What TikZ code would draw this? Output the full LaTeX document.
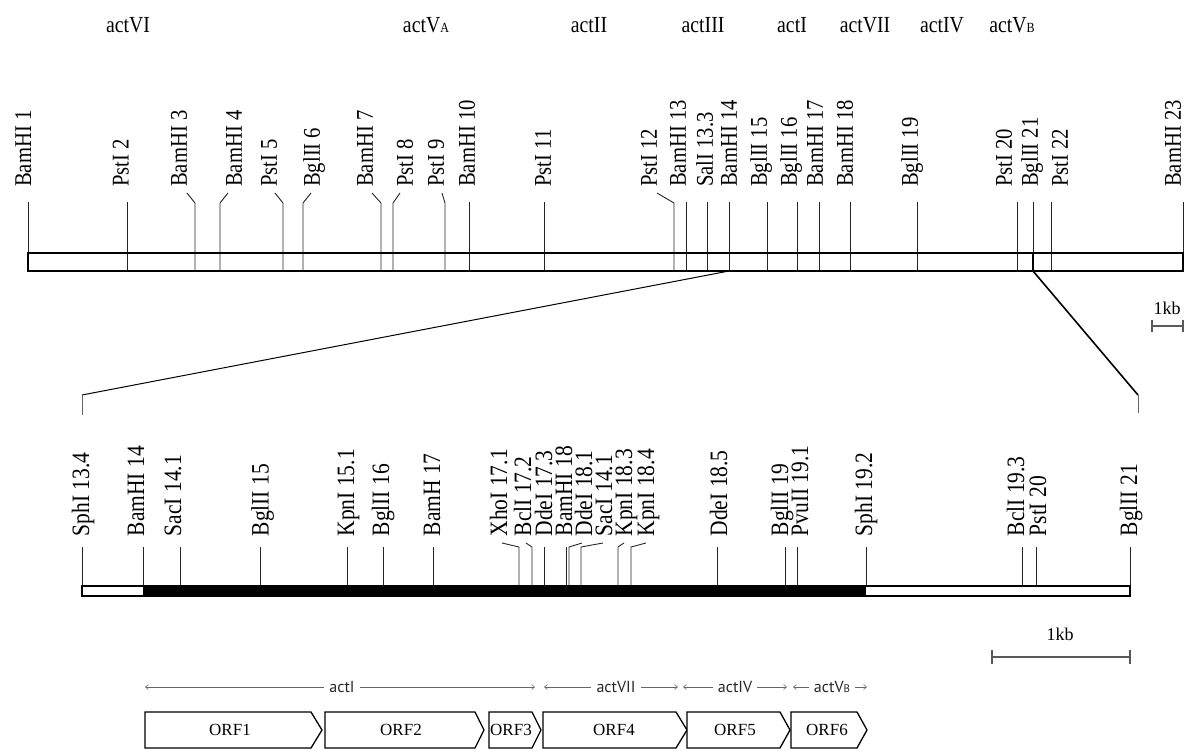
\documentclass[tikz,border=0pt]{standalone}
\usepackage{fontspec}
\setmainfont{Liberation Serif}
\newfontfamily\condserif[FakeStretch=0.86]{Liberation Serif}
\newfontfamily\rowsans{PT Sans}
\usetikzlibrary{arrows.meta}
\begin{document}
\begin{tikzpicture}[x=1pt,y=-1pt,
  toplbl/.style={rotate=90,anchor=west,inner sep=0pt,text height=15.5pt,text depth=0pt,font=\condserif\fontsize{24}{24}\selectfont},
  lowlbl/.style={rotate=90,anchor=west,inner sep=0pt,text height=16.2pt,text depth=0pt,font=\condserif\fontsize{25}{25}\selectfont},
  actlbl/.style={anchor=base,inner sep=0pt,font=\condserif\fontsize{23}{23}\selectfont},
  sitetick/.style={draw=black!85,line width=0.9pt},
  mapbar/.style={draw=black,line width=2pt,fill=white},
  orfbox/.style={draw=black,line width=1.3pt,fill=white,line join=miter},
  orftext/.style={font=\fontsize{17}{17}\selectfont,inner sep=0pt},
  rowlbl/.style={font=\rowsans\fontsize{16}{16}\selectfont,text=black!85,inner sep=5pt},
  rowarr/.style={draw=black!60,line width=0.6pt,-{Straight Barb[length=3pt,width=5pt]}},
  scalebar/.style={draw=black!65,line width=1.3pt},
  kb/.style={font=\fontsize{18}{18}\selectfont,inner sep=0pt}
]
\useasboundingbox (0,0) rectangle (1186,750);

% gene labels on top
\node[actlbl] (aVI) at (128,32) {actVI};
\node[actlbl] (aVA) at (426,32) {actV{\fontsize{14}{14}\selectfont A}};
\node[actlbl] (aII) at (589,32) {actII};
\node[actlbl] (aIII) at (703,32) {actIII};
\node[actlbl] (aI) at (792,32) {actI};
\node[actlbl] (aVII) at (865,32) {actVII};
\node[actlbl] (aIV) at (942,32) {actIV};
\node[actlbl] (aVB) at (1012,32) {actV{\fontsize{14}{14}\selectfont B}};

% top map
\draw[mapbar] (28,253) rectangle (1183,271);
\foreach \t/\c/\x [count=\i] in {BamHI 1/23.3/28, PstI 2/120.8/127, BamHI 10/467/469, PstI 11/543/544, BamHI 13/678/686, SalI 13.3/705/707, BamHI 14/729/729, BglII 15/759/767, BglII 16/789/797, BamHI 17/815/819, BamHI 18/845/850, BglII 19/910/917, PstI 20/1004/1017, BglII 21/1030/1033, PstI 22/1060/1051, BamHI 23/1173/1183}{
  \node[toplbl] (ts\i) at (\c,187) {\t};
  \draw[sitetick] (\x,202) -- (\x,271);
}
\foreach \t/\c/\b/\x [count=\i] in {BamHI 3/179/187/195, BamHI 4/234/228/220, PstI 5/269/275/283, BglII 6/312/311/303, BamHI 7/365/372/381, PstI 8/405/400/393, PstI 9/436/442/445, PstI 12/649/657/674}{
  \node[toplbl] (tb\i) at (\c,187) {\t};
  \draw[sitetick] (\b,193) -- (\x,203) -- (\x,271);
}
\draw[line width=2pt] (28,253) rectangle (1183,271);

% small scale bar
\node[kb] (kb1) at (1167,308) {1kb};
\draw[scalebar] (1152,326) -- (1183,326);
\draw[scalebar] (1152,320) -- (1152,332);
\draw[scalebar] (1183,320) -- (1183,332);

% expansion lines
\coordinate (zA) at (729,271);
\coordinate (zB) at (82,395);
\coordinate (zC) at (82,415);
\coordinate (zD) at (1033,271);
\coordinate (zE) at (1138,395);
\coordinate (zF) at (1138,413);
\draw[line width=1pt] (zA) -- (zB);
\draw[line width=0.6pt,draw=black!60] (zB) -- (zC);
\draw[line width=1.6pt] (1033,253) -- (zD) -- (zE);
\draw[line width=0.6pt,draw=black!60] (zE) -- (zF);

% lower map
\foreach \t/\c/\x [count=\i] in {SphI 13.4/81/82, BamHI 14/136/143, SacI 14.1/173/180, BglII 15/260.5/260, KpnI 15.1/346/347, BglII 16/381/383, BamH 17/432/433, DdeI 17.3/544/544, BamHI 18/564/566, DdeI 18.5/719/717, BglII 19/780/785, PvuII 19.1/800/797, SphI 19.2/864/866, BclI 19.3/1016/1022, PstI 20/1038/1036, BglII 21/1129/1130}{
  \node[lowlbl] (ls\i) at (\c,536.5) {\t};
  \draw[sitetick] (\x,547) -- (\x,586);
}
\foreach \t/\c/\b/\x [count=\i] in {XhoI 17.1/499/502/519, BclI 17.2/523/526/532, DdeI 18.1/584/582/569, SacI 14.1/604/603/581, KpnI 18.3/624/624/618, KpnI 18.4/646/646/631}{
  \node[lowlbl] (lb\i) at (\c,536.5) {\t};
  \draw[sitetick] (\b,543) -- (\x,547) -- (\x,586);
}
\fill[white] (82,586) rectangle (1130,596);
\fill[black] (143,586) rectangle (866,596);
\draw[line width=1.5pt] (82,586) rectangle (1130,596);

% large scale bar
\node[kb] (kb2) at (1060,634) {1kb};
\draw[scalebar] (992,657) -- (1130,657);
\draw[scalebar] (992,650) -- (992,664);
\draw[scalebar] (1130,650) -- (1130,664);

% gene span arrows
\node[rowlbl] (r1) at (342,687) {actI};
\coordinate (r1l) at (145,687); \coordinate (r1r) at (535,687);
\draw[rowarr] (r1.west) -- (r1l); \draw[rowarr] (r1.east) -- (r1r);
\node[rowlbl] (r2) at (616,687) {actVII};
\coordinate (r2l) at (544,687); \coordinate (r2r) at (678,687);
\draw[rowarr] (r2.west) -- (r2l); \draw[rowarr] (r2.east) -- (r2r);
\node[rowlbl] (r3) at (735,687) {actIV};
\coordinate (r3l) at (683,687); \coordinate (r3r) at (787,687);
\draw[rowarr] (r3.west) -- (r3l); \draw[rowarr] (r3.east) -- (r3r);
\node[rowlbl] (r4) at (832,687) {actV{\fontsize{11}{11}\selectfont B}};
\coordinate (r4l) at (793,687); \coordinate (r4r) at (867,687);
\draw[rowarr] (r4.west) -- (r4l); \draw[rowarr] (r4.east) -- (r4r);

% ORFs
\foreach \n/\l/\r/\p/\c in {ORF1/145/311/322/230, ORF2/325/475/484/401, ORF3/489/532/541/511, ORF4/543/676/687/614, ORF5/687/780/790/735, ORF6/791/857/867/827}{
  \draw[orfbox] (\l,712) -- (\r,712) -- (\p,730) -- (\r,748) -- (\l,748) -- cycle;
  \node[orftext] (o\n) at (\c,730) {\n};
}
\end{tikzpicture}
\end{document}
